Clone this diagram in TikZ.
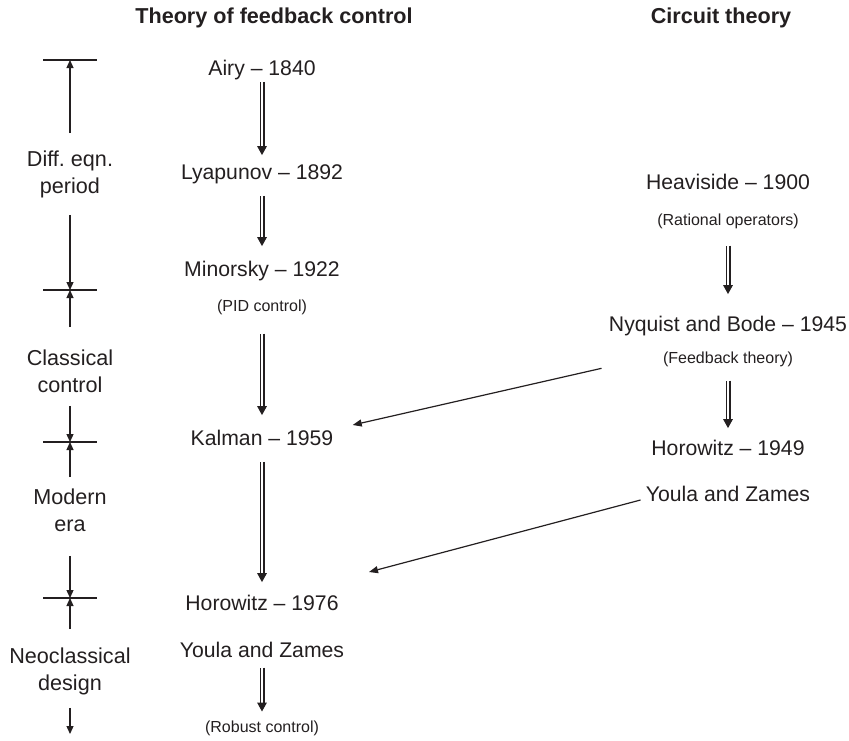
\documentclass[tikz,border=0pt]{standalone}
\usepackage{fontspec}
\setmainfont{Liberation Sans}
\usetikzlibrary{positioning,arrows.meta}
\definecolor{ink}{HTML}{231F20}

\begin{document}
\begin{tikzpicture}[x=0.5pt,y=-0.5pt,color=ink,
  hd/.style={font=\fontsize{10.8}{13}\selectfont\bfseries,inner sep=0pt},
  ev/.style={font=\fontsize{10.6}{13}\selectfont,inner sep=0pt,text height=7.7pt,text depth=2.2pt},
  note/.style={font=\fontsize{8}{9}\selectfont,inner sep=0pt,text height=5.8pt,text depth=1.7pt},
  era/.style={font=\fontsize{10.8}{13.5}\selectfont\frenchspacing,align=center,inner sep=0pt},
  dbl/.style={double,double distance=1.3pt,line width=0.6pt,-{Triangle[length=4.5pt,width=4.8pt]}},
  lnk/.style={line width=0.6pt,-{Triangle[length=4.5pt,width=3.5pt]}},
  tk/.style={line width=0.6pt,-{Triangle[length=4pt,width=3.5pt]}}]
\useasboundingbox (0,0) rectangle (849,740);

% column heads
\node[hd] (hfb) at (274,18) {Theory of feedback control};
\node[hd] (hct) at (721,18) {Circuit theory};

% feedback control
\node[ev] (airy) at (262,70) {Airy -- 1840};
\node[ev] (lyap) at (262,174) {Lyapunov -- 1892};
\node[ev] (mino) at (262,271) {Minorsky -- 1922};
\node[note,below=9pt of mino] (pid) {(PID control)};
\node[ev] (kalm) at (262,440) {Kalman -- 1959};
\node[ev] (horo76) at (262,605) {Horowitz -- 1976};
\node[ev,below=13pt of horo76] (youla76) {Youla and Zames};
\node[note] (robust) at (262,728) {(Robust control)};

\draw[dbl,shorten <=0.8pt,shorten >=4.3pt] (airy.south) -- (airy.south |- lyap.north);
\draw[dbl,shorten <=5.8pt,shorten >=7.3pt] (lyap.south) -- (lyap.south |- mino.north);
\draw[dbl,shorten <=9.3pt,shorten >=7.3pt] (pid.south) -- (pid.south |- kalm.north);
\draw[dbl,shorten <=5.8pt,shorten >=6.3pt] (kalm.south) -- (kalm.south |- horo76.north);
\draw[dbl,shorten <=2.8pt,shorten >=4.3pt] (youla76.south) -- (youla76.south |- robust.north);

% circuit theory
\node[ev] (heavi) at (728,184) {Heaviside -- 1900};
\node[note,below=9.5pt of heavi] (ratop) {(Rational operators)};
\node[ev] (nyq) at (728,326) {Nyquist and Bode -- 1945};
\node[note,below=7.5pt of nyq] (fbth) {(Feedback theory)};
\node[ev] (horo49) at (728,450) {Horowitz -- 1949};
\node[ev] (youla49) at (728,496) {Youla and Zames};

\draw[dbl,shorten <=8.3pt,shorten >=10.8pt] (ratop.south) -- (ratop.south |- nyq.north);
\draw[dbl,shorten <=6.8pt,shorten >=5.8pt] (fbth.south) -- (fbth.south |- horo49.north);

% cross links
\draw[lnk] ([xshift=-3.5pt,yshift=-16pt]nyq.south west) -- ([xshift=9.5pt,yshift=7.5pt]kalm.east);
\draw[lnk] ([xshift=-2.5pt,yshift=-2pt]youla49.west) -- ([xshift=15pt,yshift=16.5pt]horo76.east);

% eras
\coordinate (t0) at (70,60);
\coordinate (t1) at (70,290);
\coordinate (t2) at (70,442);
\coordinate (t3) at (70,598);
\coordinate (tend) at (70,734);
\foreach \t in {t0,t1,t2,t3}
  \draw[line width=0.6pt] ([xshift=-13.5pt]\t) -- ([xshift=13.5pt]\t);

\node[era] (diff) at (70,174) {Diff. eqn.\\period};
\node[era] (clas) at (70,371) {Classical\\control};
\node[era] (modn) at (70,510) {Modern\\era};
\node[era] (neo) at (70,671) {Neoclassical\\design};

\draw[tk,shorten <=8.5pt] (diff) -- (t0);
\draw[tk,shorten <=8.5pt] (diff) -- (t1);
\draw[tk,shorten <=11pt] (clas) -- (t1);
\draw[tk,shorten <=6.5pt] (clas) -- (t2);
\draw[tk,shorten <=5.5pt] (modn) -- (t2);
\draw[tk,shorten <=12pt] (modn) -- (t3);
\draw[tk,shorten <=9pt] (neo) -- (t3);
\draw[tk,shorten <=6.5pt] (neo) -- (tend);
\end{tikzpicture}
\end{document}
